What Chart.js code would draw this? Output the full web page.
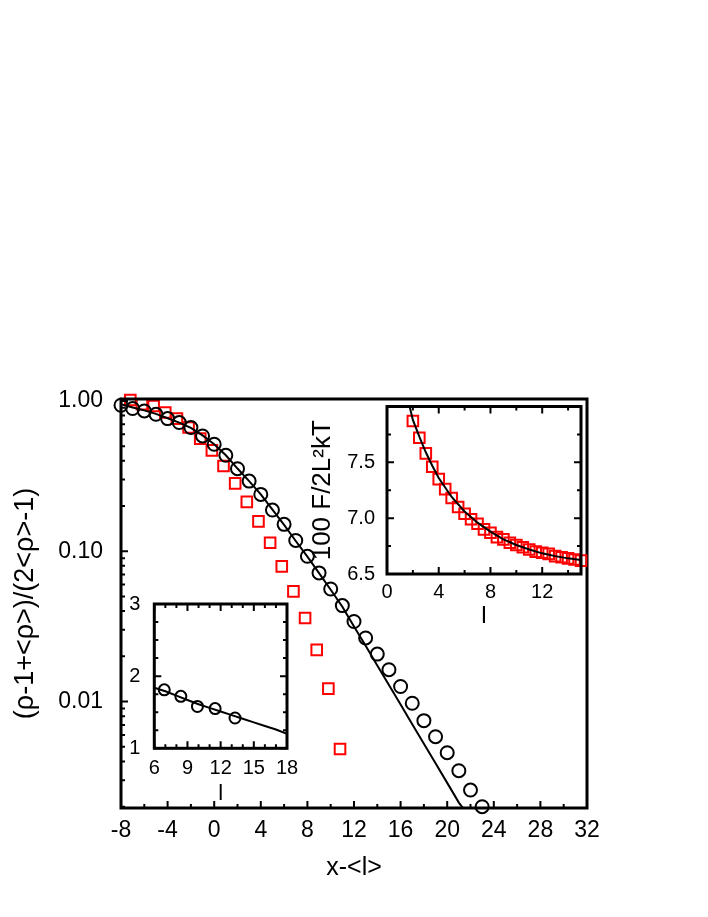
<!DOCTYPE html>
<html>
<head>
<meta charset="utf-8">
<script src="https://cdn.jsdelivr.net/npm/chart.js@4.4.1/dist/chart.umd.min.js"></script>
<style>
  body { margin: 0; background: #fff; }
  #wrap { position: relative; width: 708px; height: 917px; }
  #wrap canvas { position: absolute; left: 0; top: 0; }
</style>
</head>
<body>
<div id="wrap">
  <canvas id="mainChart" width="708" height="917"></canvas>
  <canvas id="insetF" width="708" height="917"></canvas>
  <canvas id="insetW" width="708" height="917"></canvas>
</div>
<script>
// main plot: profile vs x-<l>
var circX = [-8, -7, -6, -5, -4, -3, -2, -1, 0, 1, 2, 3, 4, 5, 6, 7, 8, 9, 10, 11, 12, 13, 14, 15, 16, 17, 18, 19, 20, 21, 22, 23];
var circY = [0.936, 0.890, 0.858, 0.815, 0.763, 0.718, 0.665, 0.585, 0.515, 0.435, 0.354, 0.293, 0.239, 0.188, 0.151, 0.118, 0.0926, 0.0718,
    0.0561, 0.0435, 0.0341, 0.0265, 0.0207, 0.0163, 0.0126, 0.00975, 0.00747, 0.00584, 0.00457, 0.00347, 0.00258, 0.0020];
var sqX = [-7.2, -6.2, -5.2, -4.2, -3.2, -2.2, -1.2, -0.2, 0.8, 1.8, 2.8, 3.8, 4.8, 5.8, 6.8, 7.8, 8.8, 9.8, 10.8];
var sqY = [1.015, 0.951, 0.926, 0.837, 0.763, 0.665, 0.561, 0.469, 0.369, 0.283, 0.213, 0.158, 0.114, 0.0794, 0.0541, 0.0360, 0.0221, 0.0122, 0.00484];
var fitX = [-8, -7, -6, -5, -4, -3, -2, -1, 0, 1, 2, 3, 4, 5, 6, 7, 8, 9, 10, 11, 12, 13, 14, 15, 16, 17, 18, 19, 20, 21, 21.35];
var fitY = [0.95, 0.905, 0.865, 0.82, 0.767, 0.718, 0.662, 0.59, 0.515, 0.435, 0.355, 0.293, 0.239, 0.189, 0.150, 0.117, 0.0920, 0.0715,
    0.0555, 0.0428, 0.0316, 0.0235, 0.0174, 0.0129, 0.00955, 0.00708, 0.00524, 0.00389, 0.00288, 0.00213, 0.00196];
var mainXTicks = [-8, -4, 0, 4, 8, 12, 16, 20, 24, 28, 32];
var mainYTicks = [0.01, 0.1, 1];
var mainYLabels = ['0.01', '0.10', '1.00'];

// top-right inset: 100 F/2L^2kT vs l
var fL = [2, 2.5, 3, 3.5, 4, 4.5, 5, 5.5, 6, 6.5, 7, 7.5, 8, 8.5, 9, 9.5, 10, 10.5, 11, 11.5, 12, 12.5, 13, 13.5, 14, 14.5, 15];
var fVal = [7.87, 7.72, 7.58, 7.46, 7.35, 7.26, 7.18, 7.10, 7.04, 6.99, 6.95, 6.90, 6.87, 6.83, 6.81, 6.78, 6.76, 6.74, 6.72, 6.70, 6.69, 6.68, 6.66, 6.65, 6.64, 6.63, 6.62];
var fFitL = [1.75, 2, 2.5, 3, 3.5, 4, 5, 6, 7, 8, 9, 10, 11, 12, 13, 14, 15];
var fFitVal = [8.0, 7.88, 7.73, 7.59, 7.47, 7.36, 7.19, 7.06, 6.96, 6.88, 6.81, 6.76, 6.72, 6.685, 6.66, 6.64, 6.625];
var fXTicks = [0, 4, 8, 12];
var fYTicks = [6.5, 7.0, 7.5];

// bottom-left inset
var wL = [6.9, 8.4, 9.9, 11.5, 13.3];
var wVal = [1.81, 1.72, 1.58, 1.55, 1.42];
var wFitL = [6, 7, 8, 9, 10, 11, 12, 13, 14, 15, 16, 17, 18];
var wFitVal = [1.84, 1.79, 1.73, 1.67, 1.61, 1.56, 1.51, 1.46, 1.41, 1.36, 1.31, 1.26, 1.20];
var wXTicks = [6, 9, 12, 15, 18];
var wYTicks = [1, 2, 3];

Chart.defaults.font.family = '"Liberation Sans", Arial, sans-serif';
Chart.defaults.color = '#000';

function pts(xs, ys) {
    var out = [];
    for (var i = 0; i < xs.length; i++) out.push({ x: xs[i], y: ys[i] });
    return out;
}
function steps(a, b, s, skip) {
    var out = [];
    for (var v = a; v <= b + 1e-9; v += s) {
        if (!skip || skip.indexOf(Math.round(v * 1000) / 1000) < 0) out.push(v);
    }
    return out;
}
function fixTicks(arr) {
    return function (scale) { scale.ticks = arr.map(function (v) { return { value: v }; }); };
}
function fixWidth(w) { return function (scale) { scale.width = w; }; }
function fixHeight(h) { return function (scale) { scale.height = h; }; }

// gnuplot style frame with inward ticks
var framePlugin = {
    id: 'frame',
    afterDatasetsDraw: function (chart, args, o) {
        var ctx = chart.ctx, a = chart.chartArea;
        var xs = chart.scales.x, ys = chart.scales.y;
        ctx.save();
        ctx.strokeStyle = '#000';
        ctx.lineWidth = 2;
        ctx.beginPath();
        function xt(v, len) {
            var p = xs.getPixelForValue(v);
            ctx.moveTo(p, a.bottom); ctx.lineTo(p, a.bottom - len);
            if (o.mirror) { ctx.moveTo(p, a.top); ctx.lineTo(p, a.top + len); }
        }
        function yt(v, len) {
            var p = ys.getPixelForValue(v);
            ctx.moveTo(a.left, p); ctx.lineTo(a.left + len, p);
            if (o.mirror) { ctx.moveTo(a.right, p); ctx.lineTo(a.right - len, p); }
        }
        o.xMajor.forEach(function (v) { xt(v, 7); });
        o.xMinor.forEach(function (v) { xt(v, 4); });
        o.yMajor.forEach(function (v) { yt(v, 7); });
        o.yMinor.forEach(function (v) { yt(v, 4); });
        ctx.stroke();
        ctx.lineWidth = 3;
        ctx.strokeRect(a.left, a.top, a.right - a.left, a.bottom - a.top);
        ctx.restore();
    }
};

var logMinor = [];
[0.001, 0.01, 0.1].forEach(function (d) {
    for (var k = 2; k <= 9; k++) if (k * d >= 0.00196 && k * d <= 1.03) logMinor.push(k * d);
});

var circleSet = { pointStyle: 'circle', backgroundColor: 'rgba(0,0,0,0)', borderColor: '#000', borderWidth: 2 };
var squareSet = { pointStyle: 'rect', backgroundColor: 'rgba(0,0,0,0)', borderColor: '#ff0000', borderWidth: 2 };
var lineSet = { showLine: true, pointRadius: 0, borderColor: '#000', borderWidth: 2, fill: false, tension: 0 };

new Chart(document.getElementById('mainChart'), {
    type: 'scatter',
    data: {
        datasets: [
            Object.assign({ data: pts(fitX, fitY) }, lineSet),
            Object.assign({ data: pts(circX, circY), pointRadius: 6.5, clip: false }, circleSet),
            Object.assign({ data: pts(sqX, sqY), pointRadius: 7.5, clip: false }, squareSet)
        ]
    },
    options: {
        responsive: false, animation: false, devicePixelRatio: 1,
        layout: { padding: { left: 0, top: 399, right: 121, bottom: 0 } },
        plugins: {
            legend: { display: false }, tooltip: { enabled: false },
            frame: { mirror: false, xMajor: mainXTicks, xMinor: steps(-6, 30, 4), yMajor: mainYTicks, yMinor: logMinor }
        },
        scales: {
            x: {
                type: 'linear', min: -8, max: 32,
                afterBuildTicks: fixTicks(mainXTicks), afterFit: fixHeight(109),
                grid: { display: false, drawTicks: false }, border: { display: false },
                ticks: { font: { size: 23 }, padding: 9, maxRotation: 0, autoSkip: false },
                title: { display: true, text: 'x-<l>', font: { size: 25 }, padding: { top: 0, bottom: 34 } }
            },
            y: {
                type: 'logarithmic', min: 0.00196, max: 1.03,
                afterBuildTicks: fixTicks(mainYTicks), afterFit: fixWidth(121),
                grid: { display: false, drawTicks: false }, border: { display: false },
                ticks: { font: { size: 23 }, padding: 18, autoSkip: false, callback: function (v, i) { return mainYLabels[i]; } },
                title: { display: true, text: '(ρ-1+<ρ>)/(2<ρ>-1)', font: { size: 27 }, padding: { top: 9, bottom: 0 } }
            }
        }
    },
    plugins: [framePlugin]
});

new Chart(document.getElementById('insetF'), {
    type: 'scatter',
    data: {
        datasets: [
            Object.assign({ data: pts(fFitL, fFitVal) }, lineSet),
            Object.assign({ data: pts(fL, fVal), pointRadius: 7.5, clip: false }, squareSet)
        ]
    },
    options: {
        responsive: false, animation: false, devicePixelRatio: 1,
        layout: { padding: { left: 307, top: 406.5, right: 127, bottom: 283 } },
        plugins: {
            legend: { display: false }, tooltip: { enabled: false },
            frame: { mirror: true, xMajor: fXTicks, xMinor: [2, 6, 10, 14], yMajor: fYTicks, yMinor: [6.75, 7.25, 7.75] }
        },
        scales: {
            x: {
                type: 'linear', min: 0, max: 15,
                afterBuildTicks: fixTicks(fXTicks), afterFit: fixHeight(60),
                grid: { display: false, drawTicks: false }, border: { display: false },
                ticks: { font: { size: 20 }, padding: 6, maxRotation: 0, autoSkip: false },
                title: { display: true, text: 'l', font: { size: 24 }, padding: { top: 0, bottom: 3 } }
            },
            y: {
                type: 'linear', min: 6.5, max: 8.0,
                afterBuildTicks: fixTicks(fYTicks), afterFit: fixWidth(80),
                grid: { display: false, drawTicks: false }, border: { display: false },
                ticks: { font: { size: 20 }, padding: 12, autoSkip: false, callback: function (v) { return v.toFixed(1); } },
                title: { display: true, text: '100 F/2L²kT', font: { size: 26 }, padding: { top: 0, bottom: 0 } }
            }
        }
    },
    plugins: [framePlugin]
});

new Chart(document.getElementById('insetW'), {
    type: 'scatter',
    data: {
        datasets: [
            Object.assign({ data: pts(wFitL, wFitVal) }, lineSet),
            Object.assign({ data: pts(wL, wVal), pointRadius: 5.5, clip: false }, circleSet)
        ]
    },
    options: {
        responsive: false, animation: false, devicePixelRatio: 1,
        layout: { padding: { left: 94.3, top: 604, right: 421, bottom: 108.7 } },
        plugins: {
            legend: { display: false }, tooltip: { enabled: false },
            frame: { mirror: true, xMajor: wXTicks, xMinor: steps(7, 17, 1, wXTicks), yMajor: wYTicks, yMinor: steps(1.25, 2.75, 0.25, wYTicks) }
        },
        scales: {
            x: {
                type: 'linear', min: 6, max: 18,
                afterBuildTicks: fixTicks(wXTicks), afterFit: fixHeight(60),
                grid: { display: false, drawTicks: false }, border: { display: false },
                ticks: { font: { size: 20 }, padding: 8, maxRotation: 0, autoSkip: false },
                title: { display: true, text: 'l', font: { size: 22 }, padding: { top: 0, bottom: 1 } }
            },
            y: {
                type: 'linear', min: 1, max: 3,
                afterBuildTicks: fixTicks(wYTicks), afterFit: fixWidth(60),
                grid: { display: false, drawTicks: false }, border: { display: false },
                ticks: { font: { size: 20 }, padding: 14, autoSkip: false }
            }
        }
    },
    plugins: [framePlugin]
});
</script>
</body>
</html>
